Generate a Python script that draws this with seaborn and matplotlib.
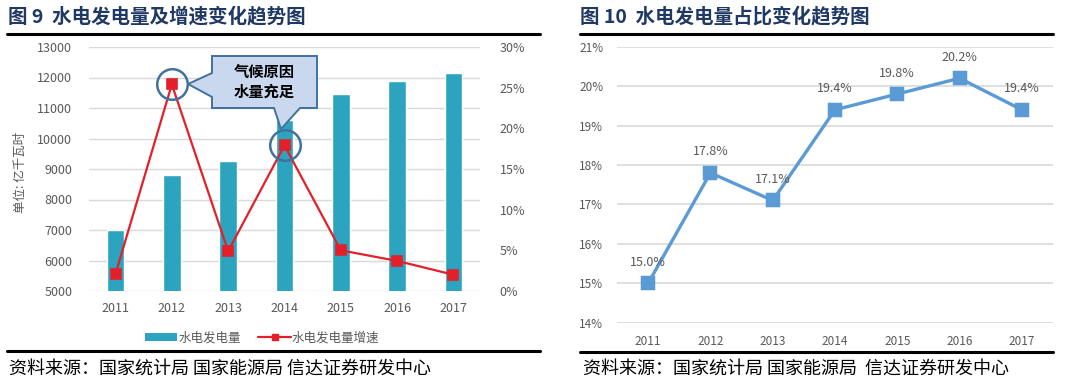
import numpy as np
import pandas as pd
import matplotlib
matplotlib.use("Agg")
import matplotlib.pyplot as plt
import seaborn as sns
from matplotlib.lines import Line2D
from matplotlib.patches import Polygon, Patch

# ── Data ───────────────────────────────────────────────
years = ["2011", "2012", "2013", "2014", "2015", "2016", "2017"]
hydro_output = [6990, 8800, 9250, 10600, 11450, 11900, 12150]   # 亿千瓦时
hydro_growth = [2.1, 25.4, 4.9, 17.9, 5.0, 3.7, 2.0]            # %
hydro_share = [15.0, 17.8, 17.1, 19.4, 19.8, 20.2, 19.4]        # %
left_ticks = [5000, 6000, 7000, 8000, 9000, 10000, 11000, 12000, 13000]
growth_ticks = [0, 5, 10, 15, 20, 25, 30]
share_ticks = [14, 15, 16, 17, 18, 19, 20, 21]
callout_years = ["2012", "2014"]

# ── Setup ──────────────────────────────────────────────
sns.set_theme(style="white")
FONTS = ["Noto Sans CJK SC", "DejaVu Sans"]
plt.rcParams["font.family"] = FONTS
plt.rcParams["axes.unicode_minus"] = False

W, H = 1089, 390
BAR_C = "#2CA4BF"
RED = "#E3202A"
BLUE = "#5B9BD5"
GRID = "#D9D9D9"
TXT = "#595959"
NAVY = "#1F3864"

df = pd.DataFrame({"year": years, "output": hydro_output,
                   "growth": hydro_growth, "share": hydro_share})

fig = plt.figure(figsize=(W / 100, H / 100), dpi=100)


def fx(px):
    return px / W


def fy(py):
    return 1 - py / H


def hline(x0, x1, y, lw=2.2):
    fig.add_artist(Line2D([fx(x0), fx(x1)], [fy(y), fy(y)], color="black",
                          lw=lw, transform=fig.transFigure))


# ── Left panel: output bars + growth line ──────────────
ax = fig.add_axes([fx(89), fy(291), fx(480) - fx(89), fy(47) - fy(291)])
sns.barplot(data=df, x="year", y="output", color=BAR_C, width=0.31,
            saturation=1, ax=ax, zorder=2)
ax.set_ylim(5000, 13000)
ax.set_yticks(left_ticks)
ax.set_yticklabels([str(v) for v in left_ticks])
ax.yaxis.grid(True, color=GRID, lw=1, zorder=0)
ax.set_axisbelow(True)
ax.set_xlabel("")
ax.set_ylabel("")
ax.tick_params(axis="both", length=0, labelsize=9, colors=TXT)
ax.tick_params(axis="y", pad=12)
ax.tick_params(axis="x", pad=8)
for s in ax.spines.values():
    s.set_visible(False)

ax2 = ax.twinx()
sns.pointplot(data=df, x="year", y="growth", color=RED, markers="s",
              markersize=6.5, linewidth=1.6, ax=ax2)
ax2.set_ylim(0, 30)
ax2.set_yticks(growth_ticks)
ax2.set_yticklabels([f"{v}%" for v in growth_ticks])
ax2.set_ylabel("")
ax2.tick_params(axis="y", length=0, labelsize=9, colors=TXT, pad=14)
for s in ax2.spines.values():
    s.set_visible(False)

# circles around highlighted points
hl = df[df["year"].isin(callout_years)]
ax2.plot([years.index(y) for y in hl["year"]], hl["growth"], "o", ms=22,
         mfc="none", mec="#41719C", mew=1.8, zorder=5)

fig.text(fx(20), fy(172), "单位: 亿千瓦时", rotation=90, ha="center",
         va="center", fontsize=9, color=TXT)

# callout box
box = Polygon([(fx(212), fy(56)), (fx(317), fy(56)), (fx(317), fy(108)),
               (fx(300), fy(108)), (fx(281), fy(129)), (fx(274), fy(108)),
               (fx(212), fy(108)), (fx(212), fy(97)), (fx(188), fy(84)),
               (fx(212), fy(73))],
              closed=True, transform=fig.transFigure, facecolor="#C9D8EF",
              edgecolor="#41719C", lw=1.4, zorder=10)
fig.add_artist(box)
fig.text(fx(264), fy(82), "气候原因\n水量充足", ha="center", va="center",
         fontsize=11, fontweight="bold", color="black", linespacing=1.25,
         zorder=11)

# legend
handles = [Patch(facecolor=BAR_C, edgecolor="none", label="水电发电量"),
           Line2D([0], [0], color=RED, lw=1.6, marker="s", ms=4,
                  label="水电发电量增速")]
fig.legend(handles=handles, loc="center", bbox_to_anchor=(fx(262), fy(338)),
           ncol=2, frameon=False, fontsize=9, handlelength=2.6,
           handleheight=0.6, columnspacing=1.4, handletextpad=0.1,
           labelcolor=TXT)

# ── Right panel: share line ────────────────────────────
ax3 = fig.add_axes([fx(617), fy(322.7), fx(1053) - fx(617), fy(46.7) - fy(322.7)])
sns.pointplot(data=df, x="year", y="share", color=BLUE, markers="s",
              markersize=8, linewidth=2.4, ax=ax3)
ax3.set_ylim(14, 21)
ax3.set_yticks(share_ticks)
ax3.set_yticklabels([f"{v}%" for v in share_ticks])
ax3.yaxis.grid(True, color=GRID, lw=1.2, zorder=0)
ax3.set_axisbelow(True)
ax3.set_xlabel("")
ax3.set_ylabel("")
ax3.tick_params(axis="both", length=0, labelsize=8.5, colors=TXT)
ax3.tick_params(axis="x", pad=9)
ax3.tick_params(axis="y", pad=10)
for s in ax3.spines.values():
    s.set_visible(False)
for i, v in enumerate(hydro_share):
    ax3.annotate(f"{v:.1f}%", (i, v), xytext=(0, 21), textcoords="offset pixels",
                 ha="center", va="center", fontsize=9, color=TXT)

# ── Titles, rules, sources ─────────────────────────────
fig.text(fx(8), fy(16), "图 9  水电发电量及增速变化趋势图", fontsize=14,
         fontweight="bold", color=NAVY, va="center", ha="left")
fig.text(fx(580), fy(16), "图 10  水电发电量占比变化趋势图", fontsize=14,
         fontweight="bold", color=NAVY, va="center", ha="left")
hline(7, 540, 33.5)
hline(580, 1053, 33.5)
hline(7, 540, 351)
hline(580, 1053, 352)
fig.text(fx(9), fy(369), "资料来源：国家统计局 国家能源局 信达证券研发中心",
         fontsize=13, style="italic", color="black", va="center", ha="left")
fig.text(fx(583), fy(369), "资料来源：国家统计局 国家能源局  信达证券研发中心",
         fontsize=13, style="italic", color="black", va="center", ha="left")

fig.savefig("out.png", dpi=100)
